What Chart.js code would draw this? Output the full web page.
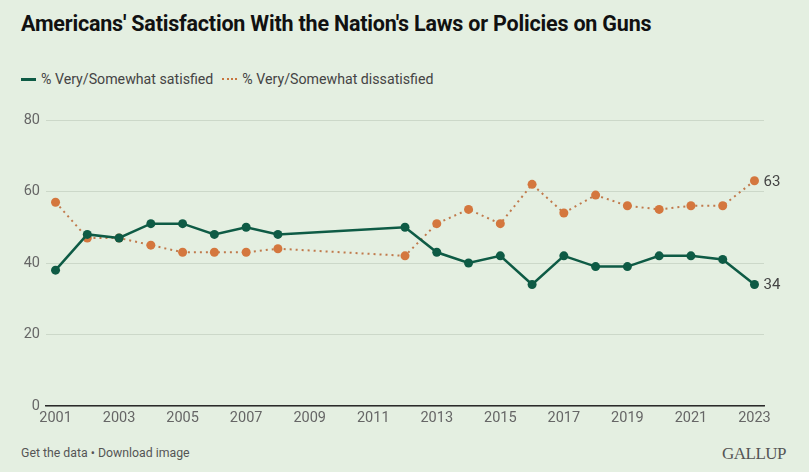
<!DOCTYPE html>
<html>
<head>
<meta charset="utf-8">
<script src="https://cdn.jsdelivr.net/npm/chart.js@4"></script>
<style>
  html, body { margin: 0; padding: 0; }
  body { width: 809px; height: 472px; background: #e4efe1; position: relative; overflow: hidden; font-family: Roboto, "Liberation Sans", sans-serif; }
  #title { position: absolute; left: 21px; top: 11px; font-size: 21.5px; font-weight: bold; color: #111; white-space: nowrap; letter-spacing: -0.2px; }
  #legend { position: absolute; left: 21px; top: 71px; font-size: 14.2px; color: #444; white-space: nowrap; display: flex; align-items: center; }
  .sw { display: inline-block; width: 15px; height: 0; margin-right: 5px; }
  #footer { position: absolute; left: 21px; top: 446px; font-size: 12.3px; color: #555; }
  #logo { position: absolute; left: 722px; top: 444px; font-family: "Liberation Serif", "DejaVu Serif", serif; font-size: 17px; color: #555; letter-spacing: -0.5px; }
  #wrap { position: absolute; left: 0; top: 100px; width: 809px; height: 340px; }
</style>
</head>
<body>
<div id="title">Americans' Satisfaction With the Nation's Laws or Policies on Guns</div>
<div id="legend">
  <span class="sw" style="border-top: 3px solid #0e5b45;"></span><span>% Very/Somewhat satisfied</span>
  <span class="sw" style="border-top: 2px dotted #c8763f; margin-left: 9px;"></span><span>% Very/Somewhat dissatisfied</span>
</div>
<div id="wrap"><canvas id="c"></canvas></div>
<div id="footer">Get the data • Download image</div>
<div id="logo">GALLUP</div>
<script>
const years = [2001, 2002, 2003, 2004, 2005, 2006, 2007, 2008, 2012, 2013, 2014, 2015, 2016, 2017, 2018, 2019, 2020, 2021, 2022, 2023];
const satisfied = [38, 48, 47, 51, 51, 48, 50, 48, 50, 43, 40, 42, 34, 42, 39, 39, 42, 42, 41, 34];
const dissatisfied = [57, 47, 47, 45, 43, 43, 43, 44, 42, 51, 55, 51, 62, 54, 59, 56, 55, 56, 56, 63];
const xTickYears = [2001, 2003, 2005, 2007, 2009, 2011, 2013, 2015, 2017, 2019, 2021, 2023];
const yTicks = [0, 20, 40, 60, 80];

const toPts = (vals) => years.map((y, i) => ({ x: y, y: vals[i] }));

const endLabels = {
  id: 'endLabels',
  afterDatasetsDraw(chart) {
    const ctx = chart.ctx;
    ctx.save();
    ctx.font = '15px Roboto, "Liberation Sans", sans-serif';
    ctx.fillStyle = '#444';
    ctx.textBaseline = 'middle';
    ctx.textAlign = 'left';
    chart.data.datasets.forEach((ds, i) => {
      const meta = chart.getDatasetMeta(i);
      const last = meta.data[meta.data.length - 1];
      const v = ds.data[ds.data.length - 1].y;
      ctx.fillText(String(v), last.x + 9, last.y + 1);
    });
    ctx.restore();
  }
};

new Chart(document.getElementById('c'), {
  type: 'line',
  data: {
    datasets: [
      {
        label: '% Very/Somewhat satisfied',
        data: toPts(satisfied),
        borderColor: '#0e5b45',
        backgroundColor: '#0e5b45',
        borderWidth: 2.5,
        pointRadius: 4.5,
        pointHoverRadius: 4.5,
        pointBorderWidth: 0,
        tension: 0
      },
      {
        label: '% Very/Somewhat dissatisfied',
        data: toPts(dissatisfied),
        borderColor: '#c07a4c',
        backgroundColor: '#d4773e',
        borderWidth: 2,
        borderDash: [2, 4],
        pointRadius: 4.5,
        pointHoverRadius: 4.5,
        pointBorderWidth: 0,
        tension: 0
      }
    ]
  },
  options: {
    responsive: true,
    maintainAspectRatio: false,
    animation: false,
    layout: { padding: { top: 20, right: 45, left: 0, bottom: 0 } },
    plugins: { legend: { display: false }, tooltip: { enabled: false }, title: { display: false } },
    scales: {
      x: {
        type: 'linear',
        min: 2000.7,
        max: 2023.3,
        afterBuildTicks: (s) => { s.ticks = xTickYears.map(v => ({ value: v })); },
        afterFit: (s) => { s.height = 34; },
        grid: { display: false, drawTicks: false },
        border: { display: true, color: '#2a2a2a', width: 1.5 },
        ticks: {
          autoSkip: false,
          maxRotation: 0,
          padding: 4,
          color: '#666',
          font: { family: 'Roboto, "Liberation Sans", sans-serif', size: 14.5 },
          callback: (v) => String(v)
        }
      },
      y: {
        min: 0,
        max: 80,
        afterBuildTicks: (s) => { s.ticks = yTicks.map(v => ({ value: v })); },
        afterFit: (s) => { s.width = 46; },
        grid: { color: '#ccd8c9', lineWidth: 1, drawTicks: false },
        border: { display: false },
        ticks: {
          padding: 6,
          color: '#666',
          font: { family: 'Roboto, "Liberation Sans", sans-serif', size: 14.5 }
        }
      }
    }
  },
  plugins: [endLabels]
});
</script>
</body>
</html>
